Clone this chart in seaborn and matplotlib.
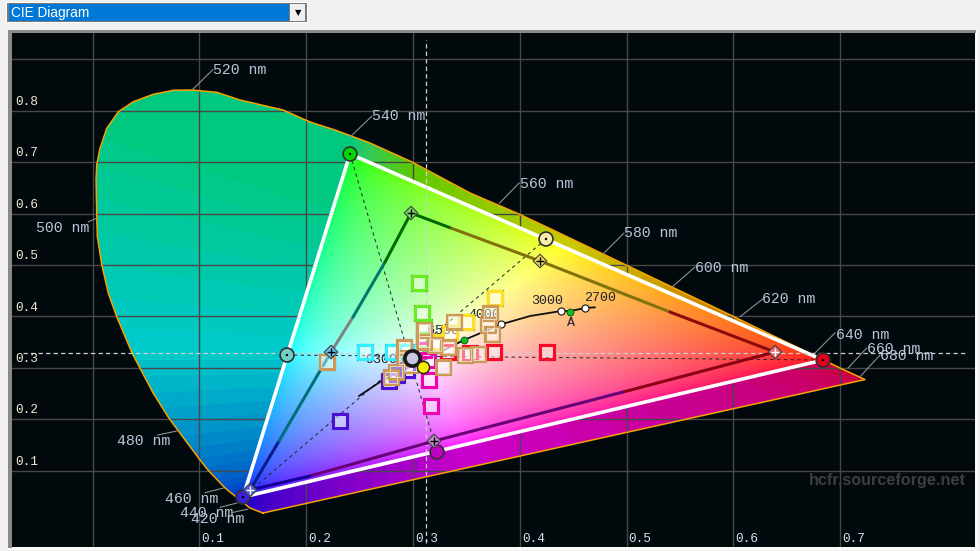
import numpy as np
import matplotlib
matplotlib.use("Agg")
import matplotlib.pyplot as plt
from matplotlib.patches import Polygon, Rectangle
import seaborn as sns

# spectral locus
locus_x = [.1596, .1475, .1381, .1241, .1081, .1000, .0719, .0569, .0445, .0367, .0227, .0148, .0086, .0045,
           .0039, .0033, .0039, .0070, .0133, .0242, .0382, .0569, .0757, .0929, .1163, .1381, .1784, .2037,
           .2271, .2598, .2992, .3535, .3993, .4312, .5875, .6999, .7233]
locus_y = [.0175, .0272, .0428, .0661, .1012, .1226, .2010, .2504, .2990, .3302, .3994, .4449, .5014, .5551,
           .6006, .6654, .6946, .7270, .7659, .7982, .8177, .8321, .8399, .8405, .8360, .8210, .8016, .7782,
           .7626, .7374, .7004, .6401, .5992, .5681, .4125, .2996, .2772]

# wavelength labels and their leader lines
nm_labels = ["520 nm", "540 nm", "560 nm", "580 nm", "600 nm", "620 nm", "640 nm",
             "660 nm", "680 nm", "500 nm", "480 nm", "460 nm", "440 nm", "420 nm"]
nm_text_x = [.1128, .2617, .4003, .4977, .5642, .6269, .6962, .7252, .7374, -.0529, .0229, .0679, .0819, .0922]
nm_text_y = [.8794, .7899, .6576, .5623, .4942, .4339, .3638, .3366, .3230, .5720, .1576, .0447, .0175, .0053]
lead_x0 = [.0932, .2411, .3809, .4780, .5426, .6063, .6765, .7074, .7186, -.0042, .0610, .1053, .1194, .1303]
lead_y0 = [.8405, .7490, .6200, .5214, .4572, .3994, .3288, .2996, .2827, .5837, .1693, .0570, .0286, .0181]
lead_x1 = [.1128, .2617, .3997, .4977, .5642, .6275, .6953, .7249, .7374, .0042, .0788, .1225, .1353, .1456]
lead_y1 = [.8804, .7899, .6601, .5623, .4961, .4339, .3683, .3385, .3249, .5914, .1770, .0661, .0370, .0253]

# reference gamut: R G B Y C M
ref_names = ["R", "G", "B", "Y", "C", "M"]
ref_x = [.6840, .2411, .1409, .4246, .1821, .3226]
ref_y = [.3152, .7160, .0486, .5506, .3249, .1362]
ref_colors = ["#e0001e", "#00d800", "#3a20d8", "#f8eeaa", "#70d0c8", "#c000c0"]

# measured gamut: R G B Y C M
meas_x = [.6390, .2982, .1475, .4190, .2233, .3198]
meas_y = [.3307, .6012, .0623, .5078, .3307, .1576]
meas_colors = ["#f06c78", "#78dc64", "#4a5cdc", "#f0dc5a", "#64c8f0", "#c888d2"]
meas_plus = ["white", "black", "white", "black", "black", "black"]

# measured gamut outline, in pieces of one colour
edge_x = [[.2982, .3363], [.3363, .4190, .5407], [.5407, .6390], [.6390, .4967], [.4967, .3198, .2037],
          [.2037, .1475], [.1475, .1746], [.1746, .2233], [.2233, .2439], [.2439, .2739], [.2739, .2982]]
edge_y = [[.6012, .5714], [.5714, .5078, .4086], [.4086, .3307], [.3307, .2529], [.2529, .1576, .0895],
          [.0895, .0623], [.0623, .1576], [.1576, .3307], [.3307, .3988], [.3988, .5058], [.5058, .6012]]
edge_colors = ["#006a00", "#82720a", "#8c0a0a", "#8c0014", "#6a0078",
               "#14009a", "#0a1a90", "#007078", "#828282", "#007a6e", "#006a00"]

white_x, white_y = .2992, .3191
measured_white_x, measured_white_y = .3095, .3016
d65_x, d65_y = .3127, .329

# black body curve
planck_x = [.4705, .4612, .4471, .4387, .4097, .3825, .3479, .3123, .2720, .2494]
planck_y = [.4177, .4163, .4105, .4105, .4008, .3846, .3541, .3171, .2763, .2451]
planck_pt_x = [.3825, .4387, .4612]
planck_pt_y = [.3846, .4111, .4169]
green_pt_x = [.4471, .3479, .3123]
green_pt_y = [.4091, .3547, .3327]
temp_labels = ["3000", "2700", "A", "4000", "9300", "6500"]
temp_x = [.4106, .4602, .4443, .3516, .2551, .3130]
temp_y = [.4300, .4358, .3872, .4027, .3152, .3720]

# saturation sweep squares
lime_x = [.3060, .3088, .3101, .3107]
lime_y = [.4644, .4060, .3788, .3541]
yellow_x = [.3766, .3494, .3350, .3207]
yellow_y = [.4352, .3885, .3671, .3508]
red_x = [.4256, .3759, .3532, .3331]
red_y = [.3302, .3302, .3282, .3302]
cyan_x = [.2549, .2811, .2935]
cyan_y = [.3302, .3302, .3307]
magenta_x = [.3154, .3169, .3141, .3104]
magenta_y = [.2763, .2257, .3152, .3346]
blue_x = [.2317, .2776, .2942, .2851]
blue_y = [.1965, .2749, .2957, .2860]
tan_x = [.2193, .2919, .2917, .2842, .2795, .2973, .3385, .3722, .3703, .3741, .3107, .3107, .3207, .3331, .3488, .3612, .3285]
tan_y = [.3119, .3399, .3191, .2924, .2815, .3054, .3897, .4060, .3833, .3658, .3735, .3508, .3444, .3399, .3249, .3268, .3010]

x_ticks = [0, .1, .2, .3, .4, .5, .6, .7]
y_ticks = [.1, .2, .3, .4, .5, .6, .7, .8, .9]
x_tick_labels = ["0.1", "0.2", "0.3", "0.4", "0.5", "0.6", "0.7"]
y_tick_labels = ["0.1", "0.2", "0.3", "0.4", "0.5", "0.6", "0.7", "0.8"]

sns.set_theme(style="dark")
plt.rcParams["font.family"] = ["Liberation Mono", "DejaVu Sans"]

W, H = 980, 551
fig = plt.figure(figsize=(W / 100, H / 100), dpi=100, facecolor="#f0f0f0")


def box(x0, y0, x1, y1, **kw):
    # window decoration, given in image pixels
    fig.add_artist(Rectangle((x0 / W, 1 - y1 / H), (x1 - x0) / W, (y1 - y0) / H,
                             transform=fig.transFigure, **kw))


# combo box and frame round the plot
box(8, 30, 978, 550, fc="#fafafa", ec="none")
box(8, 30, 976, 33, fc="#8a8a8a", ec="none")
box(8, 30, 12, 548, fc="#8a8a8a", ec="none")
box(6, 2, 308, 23, fc="white", ec="none")
box(7, 3, 307, 22, fc="#7a7a7a", ec="none")
box(9, 4, 289, 21, fc="#0078d7", ec="none")
box(290, 4, 305, 21, fc="#f0f0f0", ec="none")
fig.text(11 / W, 1 - 13.5 / H, "CIE Diagram", color="white", fontsize=9.8, va="center",
         family=["Liberation Sans"])
fig.text(298 / W, 1 - 13 / H, "\u25bc", color="black", fontsize=6, va="center", ha="center",
         family=["DejaVu Sans"])

ax = fig.add_axes([12 / W, 4 / H, 963 / W, 514 / H], facecolor="#01090c")
ax.set_zorder(5)
xlim = (-.0754, .8263)
ylim = (-.0486, .9514)
ax.set_xlim(xlim)
ax.set_ylim(ylim)

# colour field: reference primaries, balanced on D65
gx, gy = np.meshgrid(np.linspace(*xlim, 963), np.linspace(*ylim, 514))
prim = np.array([ref_x[:3], ref_y[:3], 1 - np.array(ref_x[:3]) - np.array(ref_y[:3])])
wp = np.array([d65_x / d65_y, 1, (1 - d65_x - d65_y) / d65_y])
scale = np.linalg.solve(prim, wp)
inv = np.linalg.inv(prim * scale)
rgb = np.einsum("ij,jkl->kli", inv, np.array([gx, gy, 1 - gx - gy]))
rgb = np.clip(rgb, 0, None)
rgb = rgb / np.maximum(rgb.max(axis=2, keepdims=True), 1e-6)
# the field outside the triangle is duller and teal on the green side
rgb_out = rgb ** (1 / 2.2)
rgb_out[..., 1] = rgb[..., 1] ** (1 / 3)
rgb_out[..., 2] = np.maximum(rgb[..., 2] ** (1 / 4.5), .62 * np.clip((.30 - gx) / .06, 0, 1))
rgb = rgb ** (1 / 2.2)

outer = ax.imshow(np.round(rgb_out * .8 * 24) / 24, extent=[*xlim, *ylim], origin="lower", aspect="auto", zorder=1)
outer.set_clip_path(Polygon(np.column_stack([locus_x, locus_y]), closed=True, transform=ax.transData))
inner = ax.imshow(rgb, extent=[*xlim, *ylim], origin="lower", aspect="auto", zorder=2)
inner.set_clip_path(Polygon(np.column_stack([ref_x[:3], ref_y[:3]]), closed=True, transform=ax.transData))
ax.set_xlim(xlim)
ax.set_ylim(ylim)

# grid shows over the outer field only
ax.set_xticks(x_ticks)
ax.set_yticks(y_ticks)
ax.set_axisbelow("line")
ax.grid(True, color="#484848", linewidth=1)
ax.tick_params(length=0, labelbottom=False, labelleft=False)
for s in ax.spines.values():
    s.set_visible(False)


def line(xs, ys, color, lw, z, **kw):
    sns.lineplot(x=xs, y=ys, color=color, linewidth=lw, sort=False, estimator=None,
                 legend=False, ax=ax, zorder=z, **kw)


def squares(xs, ys, outline, color, inner_col, z=7):
    sns.scatterplot(x=xs, y=ys, marker="s", s=145, facecolor=(1, 1, 1, .45), edgecolor=outline,
                    linewidth=.8, legend=False, ax=ax, zorder=z)
    sns.scatterplot(x=xs, y=ys, marker="s", s=98, facecolor="none", edgecolor=color,
                    linewidth=2.2, legend=False, ax=ax, zorder=z)
    if inner_col:
        sns.scatterplot(x=xs, y=ys, marker="s", s=64, facecolor="none", edgecolor=inner_col,
                        linewidth=.5, legend=False, ax=ax, zorder=z)


# locus outline and purple line
line(locus_x + locus_x[:1], locus_y + locus_y[:1], "#f5a400", 1.1, 3)

for i in range(len(nm_labels)):
    line([lead_x0[i], lead_x1[i]], [lead_y0[i], lead_y1[i]], "#8f8f8f", .8, 3)
    ax.text(nm_text_x[i], nm_text_y[i], nm_labels[i], color="#b9c4d8", fontsize=10.7, va="center", zorder=3)

# reference triangle
line([ref_x[0], ref_x[1], ref_x[2], ref_x[0]], [ref_y[0], ref_y[1], ref_y[2], ref_y[0]], "white", 2.6, 4)

# D65 cross hair and the lines through the white point
dash_w = (0, (3.5, 2.5))
dash_k = (0, (3.5, 3.5))
line([-.0650, .8180], [d65_y, d65_y], "#cfcfcf", .9, 4, linestyle=dash_w)
line([d65_x, d65_x], [-.0400, .9380], "#cfcfcf", .9, 4, linestyle=dash_w)
for a, b in [(1, 5), (3, 2), (4, 0)]:
    line([ref_x[a], ref_x[b]], [ref_y[a], ref_y[b]], "#20242a", .7, 4, linestyle=dash_k)

# measured triangle
for xs, ys, c in zip(edge_x, edge_y, edge_colors):
    line(xs, ys, c, 2.2, 5)

# black body curve with text under the squares
line(planck_x, planck_y, "#101010", 1.3, 5)
for t, tx, ty in zip(temp_labels, temp_x, temp_y):
    ax.text(tx, ty, t, color="#202030", fontsize=9.6, va="center", zorder=5)
sns.scatterplot(x=planck_pt_x, y=planck_pt_y, s=26, facecolor="white", edgecolor="#101010", linewidth=.8,
                legend=False, ax=ax, zorder=6)
sns.scatterplot(x=green_pt_x, y=green_pt_y, s=24, facecolor="#10c020", edgecolor="#0a5a10", linewidth=.7,
                legend=False, ax=ax, zorder=6)

squares(lime_x, lime_y, "#a01030", "#66ee22", None)
squares(yellow_x, yellow_y, "#182060", "#ffdd22", None)
squares(red_x, red_y, "#a00020", "#f80a28", None)
squares(cyan_x, cyan_y, "#4a2a6a", "#30f0ff", None)
squares(magenta_x, magenta_y, "#801070", "#f000b0", None)
squares(blue_x, blue_y, "#d01040", "#4a10d8", None)
squares(tan_x, tan_y, "#8a7050", "#cc9a58", "#f0ead8", z=8)

# gamut markers
sns.scatterplot(x=ref_x, y=ref_y, hue=ref_names, palette=dict(zip(ref_names, ref_colors)), s=100,
                edgecolor="#303030", linewidth=1.2, legend=False, ax=ax, zorder=9)
sns.scatterplot(x=ref_x[:3] + ref_x[3:5], y=ref_y[:3] + ref_y[3:5], s=3, color="black", edgecolor="none",
                legend=False, ax=ax, zorder=10)
sns.scatterplot(x=meas_x, y=meas_y, hue=ref_names, palette=dict(zip(ref_names, meas_colors)), marker="D", s=48,
                edgecolor="#404040", linewidth=.8, legend=False, ax=ax, zorder=9)
for mx, my, c in zip(meas_x, meas_y, meas_plus):
    ax.scatter(mx, my, marker="+", s=30, color=c, linewidth=1, zorder=10)

sns.scatterplot(x=[white_x], y=[white_y], s=120, facecolor="#c8c8e4", edgecolor="#181818", linewidth=2.6,
                legend=False, ax=ax, zorder=11)
sns.scatterplot(x=[measured_white_x], y=[measured_white_y], s=75, facecolor="#f4f000", edgecolor="#202020",
                linewidth=1, legend=False, ax=ax, zorder=11)

# tick labels sit inside the plot
for t, lab in zip(x_ticks[1:], x_tick_labels):
    ax.text(t + .0128, -.033, lab, color="#d4e0f4", fontsize=9.2, ha="center", va="center", zorder=12)
for t, lab in zip(y_ticks, y_tick_labels):
    ax.text(-.0726, t + .017, lab, color="#f0e8d4", fontsize=9.2, va="center", zorder=12)

ax.text(.6709, .0800, "hcfr.sourceforge.net", color="#3e3e3e", fontsize=11.7, fontweight="bold",
        va="center", family=["Liberation Sans"], zorder=12)

fig.savefig("out.png", dpi=100, facecolor=fig.get_facecolor())
